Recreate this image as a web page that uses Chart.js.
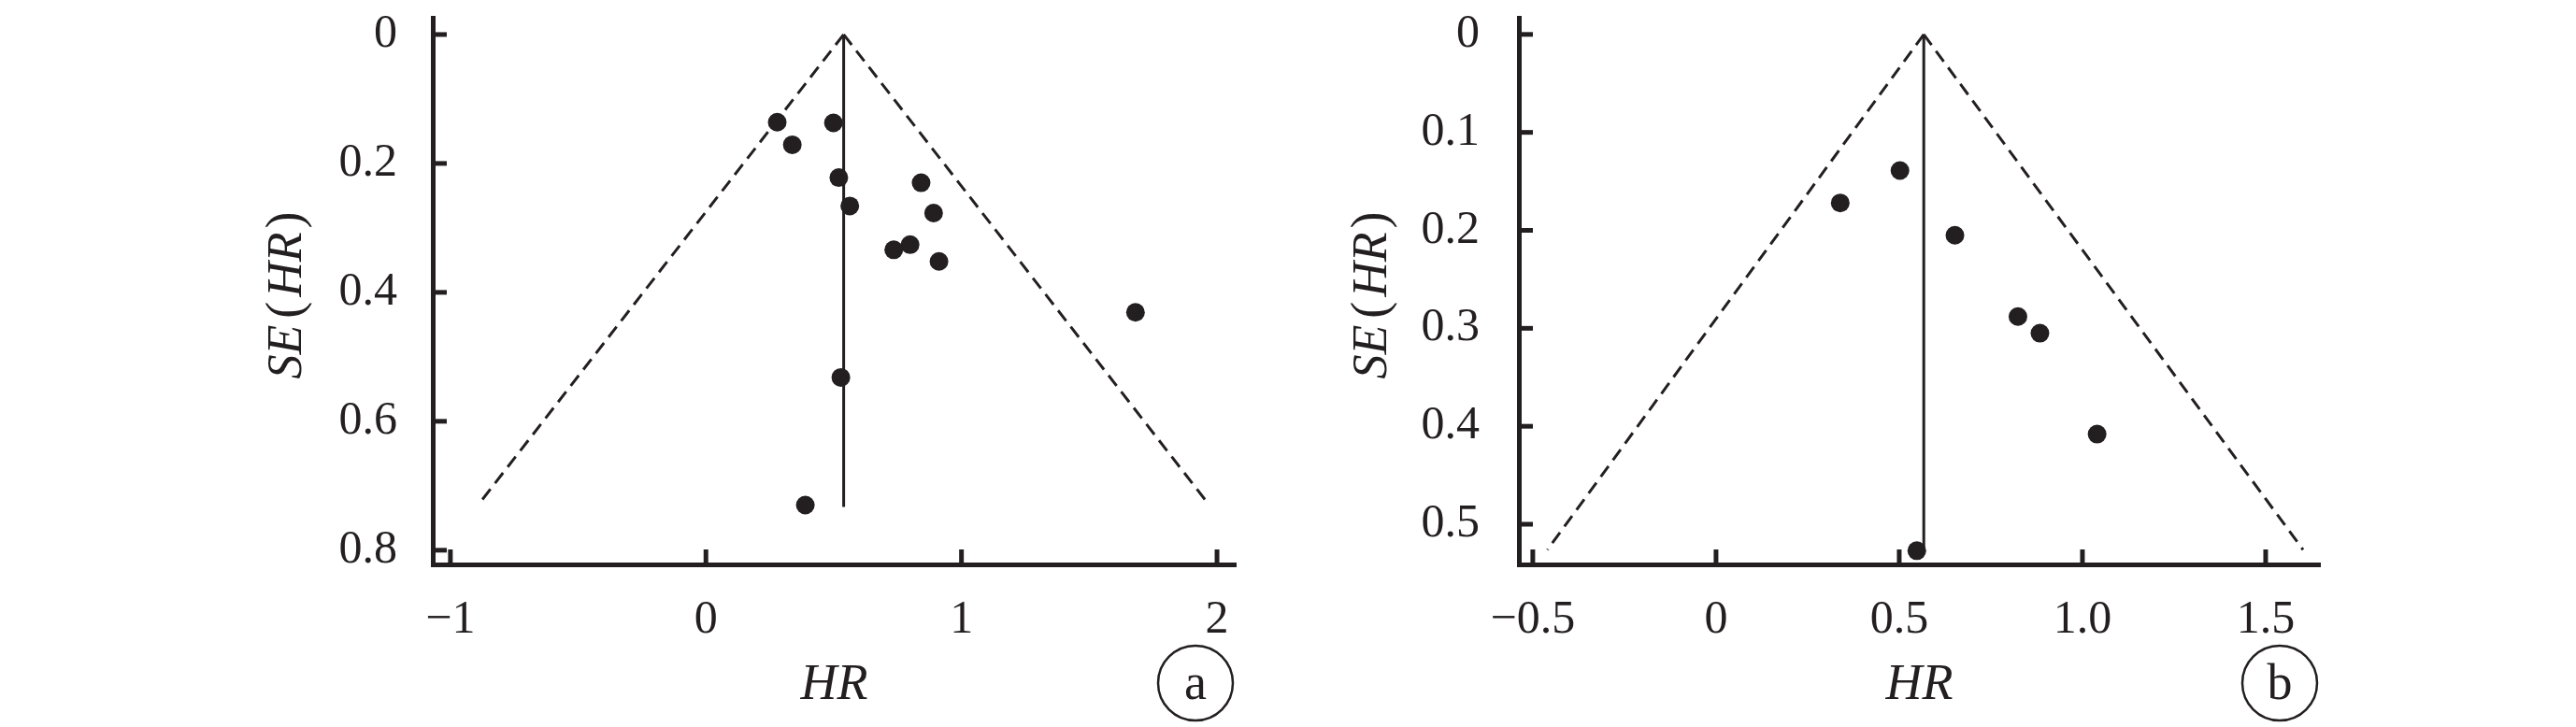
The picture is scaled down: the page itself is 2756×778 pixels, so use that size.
<!DOCTYPE html>
<html>
<head>
<meta charset="utf-8">
<script src="https://cdn.jsdelivr.net/npm/chart.js@4.4.0/dist/chart.umd.min.js"></script>
<style>
    body { margin: 0; background: #fff; }
    .panel { position: absolute; top: 0; width: 1378px; height: 778px; }
</style>
</head>
<body>
<div class="panel" style="left:0"><canvas id="chartA" width="1378" height="778"></canvas></div>
<div class="panel" style="left:1378px"><canvas id="chartB" width="1378" height="778"></canvas></div>
<script>
// panel a
const aHR = [0.279, 0.499, 0.338, 0.520, 0.842, 0.563, 0.891, 0.799, 0.735, 0.912, 1.681, 0.528, 0.389];
const aSE = [0.136, 0.137, 0.171, 0.222, 0.230, 0.266, 0.277, 0.326, 0.334, 0.352, 0.431, 0.532, 0.730];
const aPooledX = [0.539, 0.539];
const aPooledY = [0, 0.733];
const aFunnelLeftX = [0.539, -0.886];
const aFunnelRightX = [0.539, 1.964];
const aFunnelY = [0, 0.727];
const aXTicks = [-1, 0, 1, 2];
const aXLabels = ['\u22121', '0', '1', '2'];
const aYTicks = [0, 0.2, 0.4, 0.6, 0.8];
const aYLabels = ['0', '0.2', '0.4', '0.6', '0.8'];

// panel b
const bHR = [0.502, 0.339, 0.652, 0.824, 0.884, 1.040, 0.548];
const bSE = [0.139, 0.172, 0.205, 0.288, 0.305, 0.408, 0.527];
const bPooledX = [0.567, 0.567];
const bPooledY = [0, 0.530];
const bFunnelLeftX = [0.567, -0.460];
const bFunnelRightX = [0.567, 1.602];
const bFunnelY = [0, 0.526];
const bXTicks = [-0.5, 0, 0.5, 1.0, 1.5];
const bXLabels = ['\u22120.5', '0', '0.5', '1.0', '1.5'];
const bYTicks = [0, 0.1, 0.2, 0.3, 0.4, 0.5];
const bYLabels = ['0', '0.1', '0.2', '0.3', '0.4', '0.5'];

const INK = '#231f20';
const SERIF = "'Liberation Serif', 'DejaVu Serif', serif";

function pairs(xs, ys) {
    return xs.map((x, i) => ({x: x, y: ys[i]}));
}

// tick marks point into the plot
const innerTicks = {
    id: 'innerTicks',
    afterDraw(chart) {
        const {ctx, chartArea, scales} = chart;
        ctx.save();
        ctx.strokeStyle = INK;
        ctx.lineWidth = 5;
        scales.y.ticks.forEach(t => {
            const y = scales.y.getPixelForValue(t.value);
            ctx.beginPath();
            ctx.moveTo(chartArea.left, y);
            ctx.lineTo(chartArea.left + 15, y);
            ctx.stroke();
        });
        scales.x.ticks.forEach(t => {
            const x = scales.x.getPixelForValue(t.value);
            ctx.beginPath();
            ctx.moveTo(x, chartArea.bottom);
            ctx.lineTo(x, chartArea.bottom - 16);
            ctx.stroke();
        });
        ctx.restore();
    }
};

// rotated "SE(HR)" title with italic parts, and the circled panel letter
const panelText = {
    id: 'panelText',
    afterDraw(chart, args, opts) {
        const ctx = chart.ctx;
        const parts = [
            {t: 'SE', font: 'italic 52px ' + SERIF, gap: 7},
            {t: '(', font: '54px ' + SERIF, gap: 5},
            {t: 'HR', font: 'italic 52px ' + SERIF, gap: 4},
            {t: ')', font: '54px ' + SERIF, gap: 0}
        ];
        ctx.save();
        let total = 0;
        parts.forEach(p => {
            ctx.font = p.font;
            p.w = ctx.measureText(p.t).width;
            total += p.w + p.gap;
        });
        ctx.translate(opts.titleX, opts.titleY);
        ctx.rotate(-Math.PI / 2);
        ctx.fillStyle = INK;
        ctx.textBaseline = 'alphabetic';
        ctx.textAlign = 'left';
        let x = -total / 2;
        parts.forEach(p => {
            ctx.font = p.font;
            ctx.fillText(p.t, x, 0);
            x += p.w + p.gap;
        });
        ctx.restore();

        ctx.save();
        ctx.strokeStyle = INK;
        ctx.lineWidth = 2.5;
        ctx.beginPath();
        ctx.arc(opts.letterX, opts.letterY, 40, 0, Math.PI * 2);
        ctx.stroke();
        ctx.fillStyle = INK;
        ctx.font = '54px ' + SERIF;
        ctx.textAlign = 'center';
        ctx.textBaseline = 'alphabetic';
        ctx.fillText(opts.letter, opts.letterX, opts.letterY + 17);
        ctx.restore();
    }
};

function funnelChart(id, p) {
    let ctx = document.getElementById(id);
    return new Chart(ctx, {
        type: 'scatter',
        data: {
            datasets: [
                {
                    data: pairs(p.hr, p.se),
                    backgroundColor: INK,
                    borderWidth: 0,
                    pointRadius: 10,
                    pointHoverRadius: 10
                },
                {
                    data: pairs(p.pooledX, p.pooledY),
                    showLine: true,
                    borderColor: INK,
                    borderWidth: 3,
                    pointRadius: 0
                },
                {
                    data: pairs(p.leftX, p.funnelY),
                    showLine: true,
                    borderColor: INK,
                    borderWidth: 3,
                    borderDash: [14, 8],
                    pointRadius: 0
                },
                {
                    data: pairs(p.rightX, p.funnelY),
                    showLine: true,
                    borderColor: INK,
                    borderWidth: 3,
                    borderDash: [14, 8],
                    pointRadius: 0
                }
            ]
        },
        options: {
            responsive: false,
            animation: false,
            clip: false,
            layout: {
                padding: {top: 19, right: p.padRight, left: 0, bottom: 0}
            },
            plugins: {
                legend: {display: false},
                tooltip: {enabled: false},
                panelText: {
                    titleX: p.titleX,
                    titleY: 316,
                    letter: p.letter,
                    letterX: p.letterX,
                    letterY: 731
                }
            },
            scales: {
                x: {
                    type: 'linear',
                    min: p.xMin,
                    max: p.xMax,
                    afterFit: (scale) => {
                        scale.height = 174;
                        scale.paddingLeft = 0;
                        scale.paddingRight = 0;
                    },
                    afterBuildTicks: (scale) => { scale.ticks = p.xTicks.map(v => ({value: v})); },
                    grid: {display: false, drawTicks: false},
                    border: {display: true, width: 5, color: INK},
                    ticks: {
                        color: INK,
                        font: {family: SERIF, size: 50},
                        padding: 30,
                        maxRotation: 0,
                        autoSkip: false,
                        callback: (v, i) => p.xLabels[i]
                    },
                    title: {
                        display: true,
                        text: 'HR',
                        color: INK,
                        font: {family: SERIF, size: 54, style: 'italic'},
                        padding: {top: 0, bottom: 12}
                    }
                },
                y: {
                    type: 'linear',
                    reverse: true,
                    min: p.yMin,
                    max: p.yMax,
                    afterFit: (scale) => {
                        scale.width = p.yWidth;
                        scale.paddingTop = 0;
                        scale.paddingBottom = 0;
                    },
                    afterBuildTicks: (scale) => { scale.ticks = p.yTicks.map(v => ({value: v})); },
                    grid: {display: false, drawTicks: false},
                    border: {display: true, width: 5, color: INK},
                    ticks: {
                        color: INK,
                        font: {family: SERIF, size: 50},
                        padding: p.yPad,
                        autoSkip: false,
                        callback: (v, i) => p.yLabels[i]
                    }
                }
            }
        },
        plugins: [innerTicks, panelText]
    });
}

funnelChart('chartA', {
    hr: aHR, se: aSE,
    pooledX: aPooledX, pooledY: aPooledY,
    leftX: aFunnelLeftX, rightX: aFunnelRightX, funnelY: aFunnelY,
    xTicks: aXTicks, xLabels: aXLabels, yTicks: aYTicks, yLabels: aYLabels,
    xMin: -1.069, xMax: 2.073, yMin: -0.026, yMax: 0.822,
    yWidth: 463, padRight: 56, yPad: 38,
    titleX: 322, letter: 'a', letterX: 1279
});

funnelChart('chartB', {
    hr: bHR, se: bSE,
    pooledX: bPooledX, pooledY: bPooledY,
    leftX: bFunnelLeftX, rightX: bFunnelRightX, funnelY: bFunnelY,
    xTicks: bXTicks, xLabels: bXLabels, yTicks: bYTicks, yLabels: bYLabels,
    xMin: -0.538, xMax: 1.648, yMin: -0.017, yMax: 0.541,
    yWidth: 247, padRight: 274, yPad: 42,
    titleX: 105, letter: 'b', letterX: 1061
});
</script>
</body>
</html>
